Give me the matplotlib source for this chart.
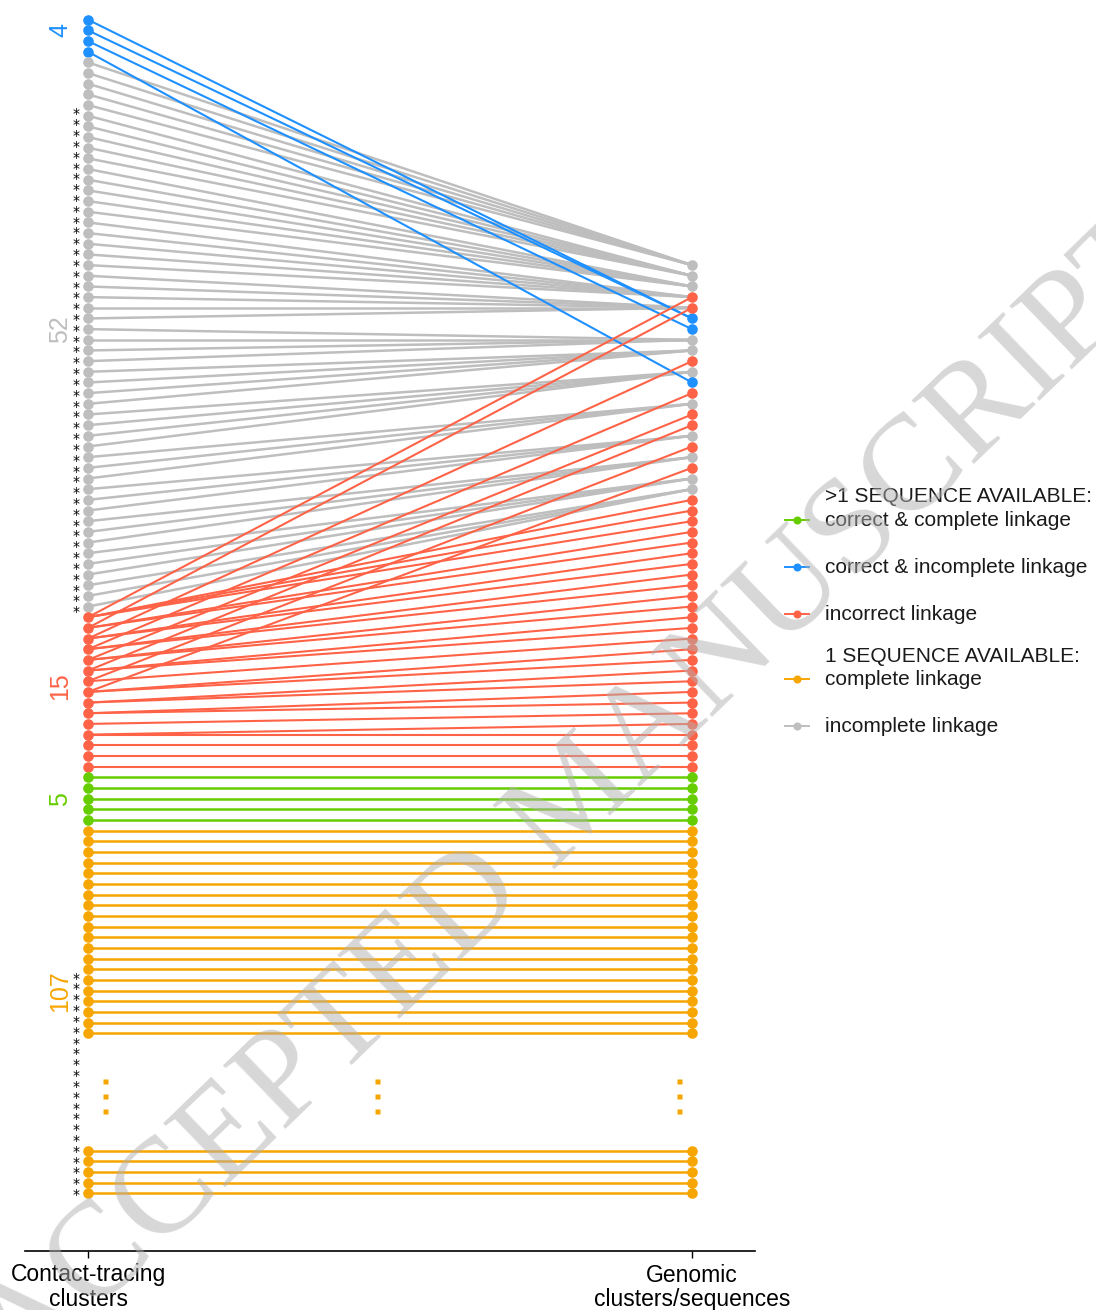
import numpy as np
import matplotlib.pyplot as plt
from matplotlib.lines import Line2D

# colours of the linkage classes
col_blue = "#1E90FF"
col_gray = "#BEBEBE"
col_red = "#FF6347"
col_green = "#66CD00"
col_orange = "#F7A500"

# group sizes shown as rotated labels on the left
group_labels = ["4", "52", "15", "5", "107"]
group_colors = [col_blue, col_gray, col_red, col_green, col_orange]
group_label_rows = [1.0, 29.0, 62.5, 73.0, 91.0]

# left (contact-tracing) rows of each class
blue_left = [0, 1, 2, 3]
gray_left = list(range(4, 56))
red_left_rows = list(range(56, 71))
green_rows = list(range(71, 76))
orange_rows = list(range(76, 96)) + list(range(106, 111))

# right (genomic) targets
blue_right = [28, 28, 29, 34]
gray_right = [23, 23, 23, 23, 23, 24, 24, 24, 24, 24, 25, 25, 25, 25, 25,
              26, 26, 26, 26, 26, 27, 27, 27, 27, 27, 30, 30, 30, 30,
              31, 31, 31, 31, 33, 33, 33, 33, 36, 36, 36, 39, 39, 39,
              41, 41, 41, 43, 43, 43, 44, 44, 44]
red_edges = [(56, 26), (56, 45), (56, 46), (56, 47),
             (57, 27), (57, 48), (57, 49),
             (58, 32), (58, 50), (58, 51),
             (59, 35), (59, 52), (59, 53),
             (60, 37), (60, 54), (60, 55),
             (61, 38), (61, 56), (61, 57),
             (62, 40), (62, 58),
             (63, 42), (63, 59), (63, 60),
             (64, 61), (64, 62),
             (65, 63), (65, 64),
             (66, 65),
             (67, 66), (67, 67),
             (68, 68), (69, 69), (70, 70)]

# colour of every right-hand point
right_gray = [23, 24, 25, 30, 31, 33, 36, 39, 41, 43, 44]
right_blue = [28, 29, 34]
right_red = [26, 27, 32, 35, 37, 38, 40, 42] + list(range(45, 71))

# rows flagged with an asterisk (first row, number of rows)
star_runs = [(9, 47), (90, 21)]

W, H = 1096, 1310
fig = plt.figure(figsize=(W / 100, H / 100), dpi=100)
ax = fig.add_axes([25 / W, (H - 1251) / H, 730 / W, 1251 / H])

xl, xr = 0.0, 1.0
lw = 1.5
ms = 6.6

for l, r in zip(gray_left, gray_right):
    ax.plot([xl, xr], [l, r], color=col_gray, lw=lw + 0.3, zorder=1)
for l, r in zip(blue_left, blue_right):
    ax.plot([xl, xr], [l, r], color=col_blue, lw=lw, zorder=2)
for l, r in red_edges:
    ax.plot([xl, xr], [l, r], color=col_red, lw=lw, zorder=3)
for r in green_rows:
    ax.plot([xl, xr], [r, r], color=col_green, lw=lw + 0.3, zorder=3)
for r in orange_rows:
    ax.plot([xl, xr], [r, r], color=col_orange, lw=lw + 0.3, zorder=3)

# left points
ax.plot([xl] * len(blue_left), blue_left, "o", color=col_blue, ms=ms, zorder=5)
ax.plot([xl] * len(gray_left), gray_left, "o", color=col_gray, ms=ms, zorder=5)
ax.plot([xl] * len(red_left_rows), red_left_rows, "o", color=col_red, ms=ms, zorder=5)
ax.plot([xl] * len(green_rows), green_rows, "o", color=col_green, ms=ms, zorder=5)
ax.plot([xl] * len(orange_rows), orange_rows, "o", color=col_orange, ms=ms, zorder=5)

# right points
ax.plot([xr] * len(right_gray), right_gray, "o", color=col_gray, ms=ms, zorder=5)
ax.plot([xr] * len(right_blue), right_blue, "o", color=col_blue, ms=ms, zorder=5)
ax.plot([xr] * len(right_red), right_red, "o", color=col_red, ms=ms, zorder=5)
ax.plot([xr] * len(green_rows), green_rows, "o", color=col_green, ms=ms, zorder=5)
ax.plot([xr] * len(orange_rows), orange_rows, "o", color=col_orange, ms=ms, zorder=5)

# truncated rows marker
for xd in [0.028, 0.478, 0.978]:
    ax.plot([xd] * 3, [99.5, 100.9, 102.3], "s", color=col_orange, ms=3.6,
            mec="none", zorder=5)

# asterisk columns, one text per run
for start, n in star_runs:
    ax.text(-0.02, start - 0.78, "\n".join(["*"] * n), ha="center", va="top",
            fontsize=10, linespacing=0.711, color="black", family="DejaVu Sans")

for lab, c, r in zip(group_labels, group_colors, group_label_rows):
    ax.text(-0.046, r, lab, rotation=90, ha="center", va="center",
            fontsize=18, color=c, family="Liberation Sans")

ax.set_xlim(-63 / 604, 667 / 604)
ax.set_ylim((1251 - 19.7) / 10.67, -19.7 / 10.67)
for s in ["left", "right", "top"]:
    ax.spines[s].set_visible(False)
ax.spines["bottom"].set_linewidth(1.2)
ax.set_yticks([])
ax.set_xticks([xl, xr])
ax.set_xticklabels(["Contact-tracing\nclusters", "Genomic\nclusters/sequences"],
                   fontsize=16.5, family="Liberation Sans", linespacing=1.08)
ax.tick_params(axis="x", length=5, width=1, pad=4)

# legend drawn by hand
leg_items = [(">1 SEQUENCE AVAILABLE:", None, 496),
             ("correct & complete linkage", col_green, 520),
             ("correct & incomplete linkage", col_blue, 567),
             ("incorrect linkage", col_red, 614),
             ("1 SEQUENCE AVAILABLE:", None, 656),
             ("complete linkage", col_orange, 679),
             ("incomplete linkage", col_gray, 726)]
for txt, c, ypx in leg_items:
    yf = 1 - ypx / H
    if c is not None:
        fig.add_artist(Line2D([785 / W, 809 / W], [yf, yf], color=c, lw=1.4,
                              transform=fig.transFigure))
        fig.add_artist(Line2D([797 / W], [yf], marker="o", ms=4.8, color=c,
                              transform=fig.transFigure))
    fig.text(825 / W, yf, txt, ha="left", va="center", fontsize=15,
             color="#1a1a1a", family="Liberation Sans")

# watermark
fig.text(580 / W, 1 - 800 / H, "ACCEPTED MANUSCRIPT", rotation=44,
         ha="center", va="center", fontsize=98, family="Liberation Serif",
         color="#b0b0b0", alpha=0.5, zorder=20)

fig.savefig("out.png", dpi=100)
